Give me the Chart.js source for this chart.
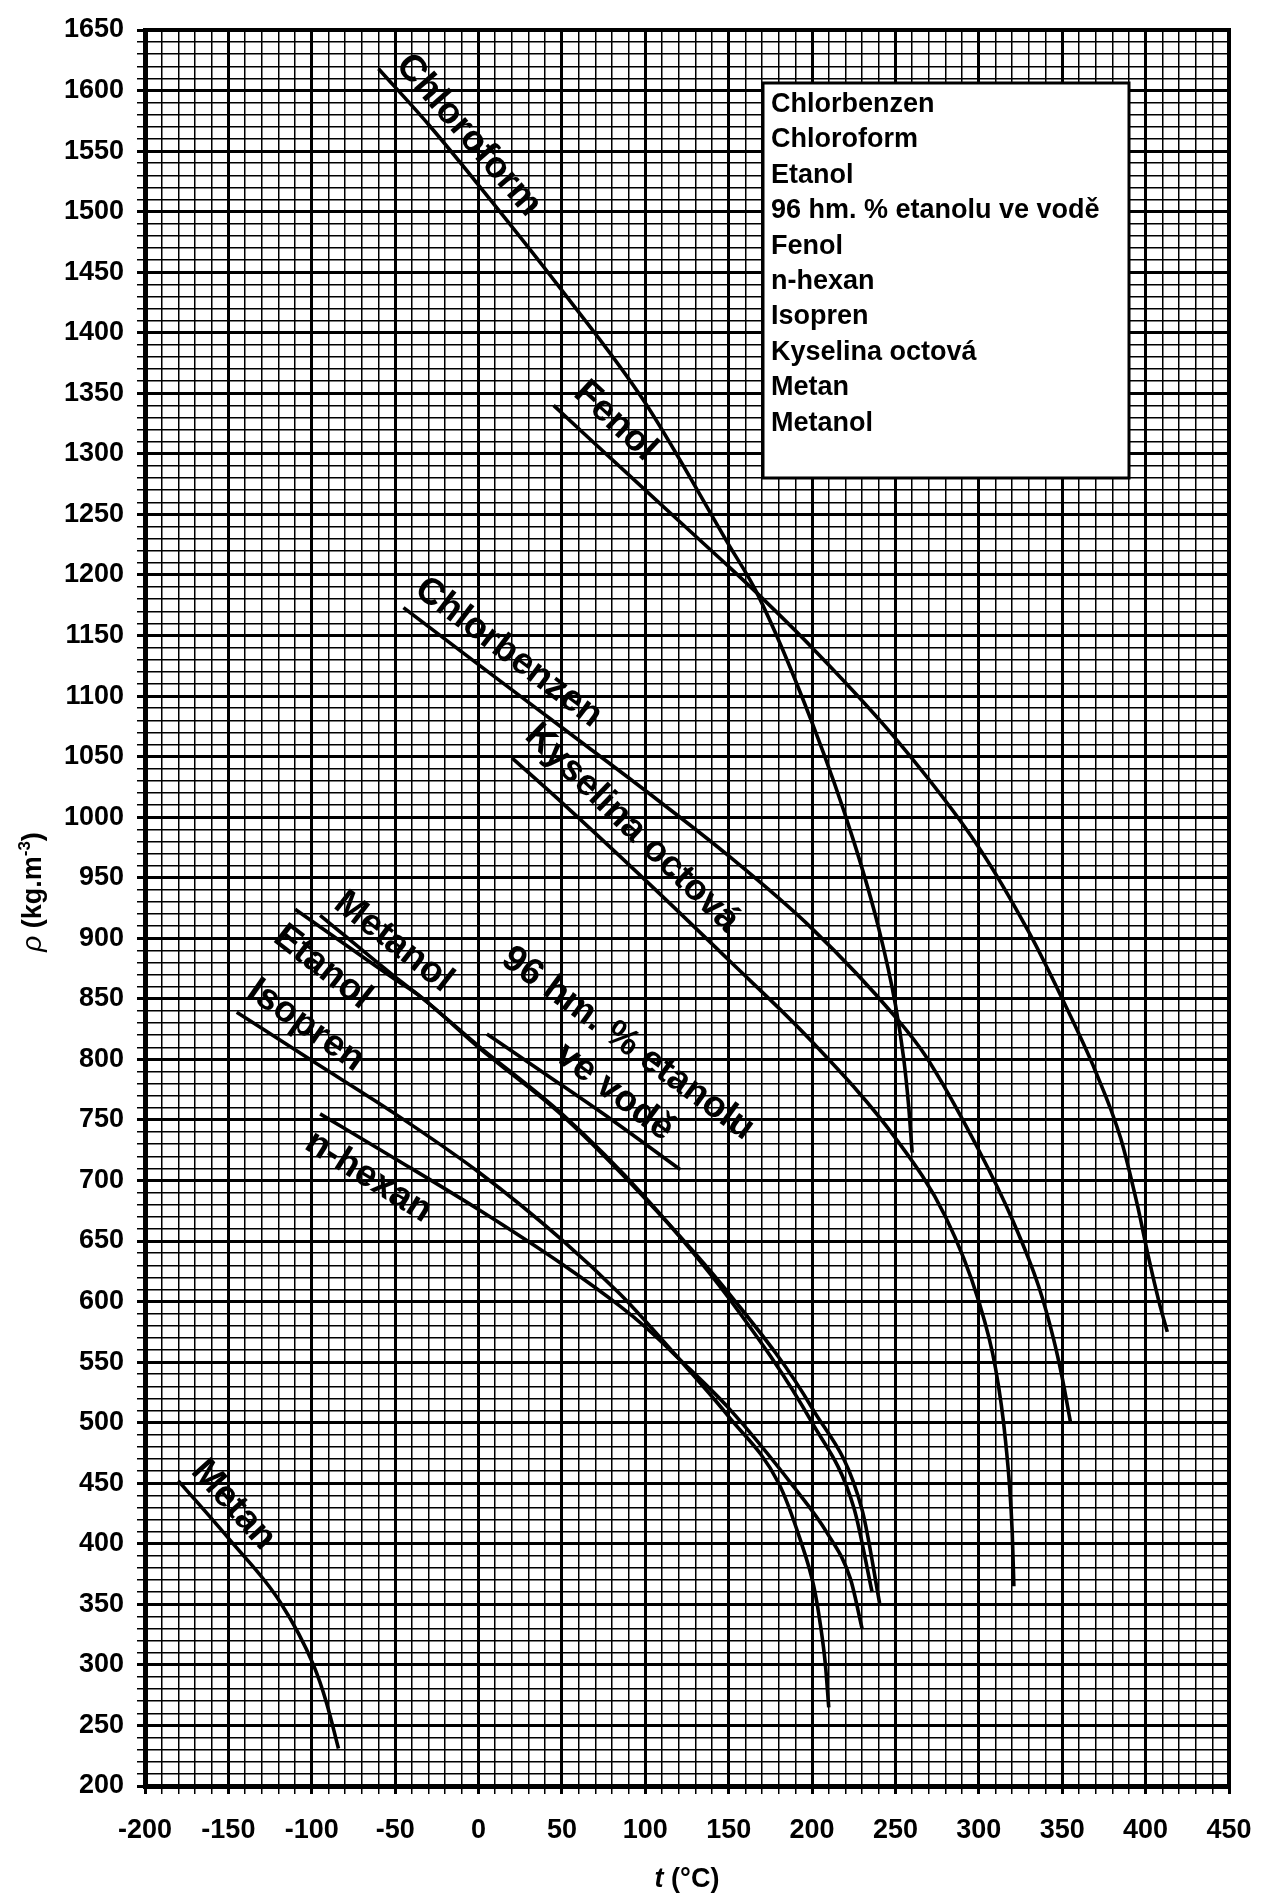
<!DOCTYPE html>
<html>
<head>
<meta charset="utf-8">
<script src="https://cdn.jsdelivr.net/npm/chart.js@4.4.0/dist/chart.umd.min.js"></script>
<style>
  html, body { margin: 0; padding: 0; background: #fff; }
  #obal { width: 1276px; height: 1896px; position: relative; }
</style>
</head>
<body>
<div id="obal"><canvas id="graf"></canvas></div>
<script>
// Hustota kapalin v zavislosti na teplote (t v °C, rho v kg.m-3)
const chlorbenzenT   = [-45, 0, 50, 100, 150, 200, 250, 268, 300, 320, 336, 345, 350, 355];
const chlorbenzenRho = [1173, 1126, 1074, 1022, 968, 908, 835, 803, 725, 668, 612, 568, 537, 500];

const chloroformT   = [-60, -30, 0, 50, 100, 150, 167, 200, 225, 240, 250, 255, 258, 260];
const chloroformRho = [1618, 1572, 1522, 1435, 1342, 1225, 1185, 1078, 980, 908, 845, 800, 760, 723];

const etanolT   = [-110, -50, -35, 0, 50, 100, 150, 200, 230, 240.5];
const etanolRho = [924, 866, 852, 810, 754, 685, 607, 512, 428, 351];

const etanol96T   = [5, 40, 80, 121];
const etanol96Rho = [821, 788, 750, 709];

const fenolT   = [45, 100, 150, 167, 200, 250, 300, 330, 350, 370, 385, 395, 402, 408, 413];
const fenolRho = [1340, 1270, 1207, 1185, 1140, 1065, 975, 905, 850, 790, 735, 680, 635, 600, 575];

const hexanT   = [-95, -50, 0, 50, 85, 100, 120, 150, 189, 209, 223, 230];
const hexanRho = [755, 718, 676, 631, 596, 579, 553, 512, 447, 409, 371, 330];

const isoprenT   = [-145, -100, -50, 0, 50, 85, 100, 120, 150, 180, 193, 201, 205, 208, 210];
const isoprenRho = [839, 799, 755, 707, 651, 606, 584, 553, 505, 450, 403, 365, 333, 300, 265];

const kyselinaT   = [20, 50, 100, 150, 199, 250, 280, 300, 310, 316, 320, 321];
const kyselinaRho = [1049, 1012, 948, 882, 816, 735, 670, 600, 545, 485, 410, 365];

const metanT   = [-180, -149, -119, -99, -91, -84];
const metanRho = [452, 403, 352, 300, 268, 231];

const metanolT   = [-95, -50, -35, 0, 50, 100, 150, 200, 225, 236];
const metanolRho = [919, 868, 852, 811, 755, 686, 603, 500, 430, 360];

// poradi jako v legende
const nazvy = ['Chlorbenzen', 'Chloroform', 'Etanol', '96 hm. % etanolu ve vodě', 'Fenol',
               'n-hexan', 'Isopren', 'Kyselina octová', 'Metan', 'Metanol'];
const serieT   = [chlorbenzenT, chloroformT, etanolT, etanol96T, fenolT, hexanT, isoprenT, kyselinaT, metanT, metanolT];
const serieRho = [chlorbenzenRho, chloroformRho, etanolRho, etanol96Rho, fenolRho, hexanRho, isoprenRho, kyselinaRho, metanRho, metanolRho];

// popisky u krivek (stred v souradnicich grafu, uhel ve stupnich)
const popiskyText = ['Chloroform', 'Fenol', 'Chlorbenzen', 'Kyselina octová', 'Metanol', 'Etanol',
                     'Isopren', 'n-hexan', '96 hm. % etanolu', 've vodě', 'Metan'];
const popiskyT    = [-6, 82, 18, 92, -51, -93.5, -103.5, -66, 89.5, 81.5, -147];
const popiskyRho  = [1563, 1327, 1136, 991, 897, 876, 828, 703, 813, 773, 432];
const popiskyUhel = [49, 43, 37, 44, 38, 38, 35, 32, 36, 37, 48];

const PISMO = '"Liberation Sans", Arial, sans-serif';

const datasety = nazvy.map((nazev, i) => ({
    label: nazev,
    data: serieT[i].map((t, j) => ({ x: t, y: serieRho[i][j] })),
    borderColor: '#000',
    borderWidth: 3.6,
    pointRadius: 0,
    fill: false,
    cubicInterpolationMode: 'monotone'
}));

const jeHlavni = v => Math.round(v) % 50 === 0;

// ramecek, legenda a popisy os
const doplnky = {
    id: 'doplnky',
    afterDatasetsDraw(chart) {
        const { ctx, scales: { x, y } } = chart;
        ctx.save();
        ctx.fillStyle = '#000';
        ctx.font = 'bold 37px ' + PISMO;
        ctx.textAlign = 'center';
        ctx.textBaseline = 'middle';
        popiskyText.forEach((txt, i) => {
            ctx.save();
            ctx.translate(x.getPixelForValue(popiskyT[i]), y.getPixelForValue(popiskyRho[i]));
            ctx.rotate(popiskyUhel[i] * Math.PI / 180);
            ctx.fillText(txt, 0, 0);
            ctx.restore();
        });
        ctx.restore();
    },
    afterDraw(chart) {
        const { ctx, chartArea: a } = chart;
        ctx.save();
        // ramecek grafu
        ctx.strokeStyle = '#000';
        ctx.lineWidth = 4;
        ctx.strokeRect(a.left, a.top, a.right - a.left, a.bottom - a.top);

        // legenda (jen text v bilem boxu)
        ctx.fillStyle = '#fff';
        ctx.fillRect(763, 83, 366, 395);
        ctx.lineWidth = 3;
        ctx.strokeRect(763, 83, 366, 395);
        ctx.fillStyle = '#000';
        ctx.font = 'bold 27px ' + PISMO;
        ctx.textAlign = 'left';
        ctx.textBaseline = 'alphabetic';
        chart.data.datasets.forEach((ds, i) => {
            ctx.fillText(ds.label, 771, 112 + i * 35.4);
        });

        // popis osy x: t (°C)
        const fB = 'bold 27px ' + PISMO;
        const fI = 'italic bold 27px ' + PISMO;
        ctx.font = fI;
        const wT = ctx.measureText('t').width;
        ctx.font = fB;
        const wR = ctx.measureText(' (°C)').width;
        let xx = (a.left + a.right) / 2 - (wT + wR) / 2;
        ctx.font = fI;
        ctx.fillText('t', xx, 1887);
        ctx.font = fB;
        ctx.fillText(' (°C)', xx + wT, 1887);

        // popis osy y: rho (kg.m-3)
        const fRho = 'italic 28px ' + PISMO;
        const fSup = 'bold 17px ' + PISMO;
        const casti = [
            ['ρ', fRho, 0],
            [' (kg.m', fB, 0],
            ['-3', fSup, -11],
            [')', fB, 0]
        ];
        let celk = 0;
        casti.forEach(c => { ctx.font = c[1]; celk += ctx.measureText(c[0]).width; });
        ctx.translate(41, 892);
        ctx.rotate(-Math.PI / 2);
        let px = -celk / 2;
        casti.forEach(c => {
            ctx.font = c[1];
            ctx.fillText(c[0], px, c[2]);
            px += ctx.measureText(c[0]).width;
        });
        ctx.restore();
    }
};

Chart.defaults.font.family = PISMO;
Chart.defaults.color = '#000';

new Chart(document.getElementById('graf'), {
    type: 'line',
    data: { datasets: datasety },
    options: {
        responsive: true,
        maintainAspectRatio: false,
        animation: false,
        events: [],
        layout: { padding: { top: 30, right: 47, left: 0, bottom: 0 } },
        plugins: {
            legend: { display: false },
            tooltip: { enabled: false }
        },
        scales: {
            x: {
                type: 'linear',
                min: -200,
                max: 450,
                afterFit: s => { s.height = 110; },
                border: { display: true, color: '#000', width: 5 },
                grid: {
                    color: '#000',
                    lineWidth: c => (c.tick && jeHlavni(c.tick.value) ? 3 : 1.5),
                    tickLength: 8
                },
                ticks: {
                    stepSize: 10,
                    autoSkip: false,
                    maxRotation: 0,
                    padding: 20,
                    font: { size: 27, weight: 'bold' },
                    callback: v => (jeHlavni(v) ? String(v) : '')
                }
            },
            y: {
                type: 'linear',
                min: 200,
                max: 1650,
                afterFit: s => { s.width = 145; },
                border: { display: true, color: '#000', width: 5 },
                grid: {
                    color: '#000',
                    lineWidth: c => (c.tick && jeHlavni(c.tick.value) ? 3 : 1.5),
                    tickLength: 8
                },
                ticks: {
                    stepSize: 10,
                    autoSkip: false,
                    padding: 13,
                    font: { size: 27, weight: 'bold' },
                    callback: v => (jeHlavni(v) ? String(v) : '')
                }
            }
        }
    },
    plugins: [doplnky]
});
</script>
</body>
</html>
